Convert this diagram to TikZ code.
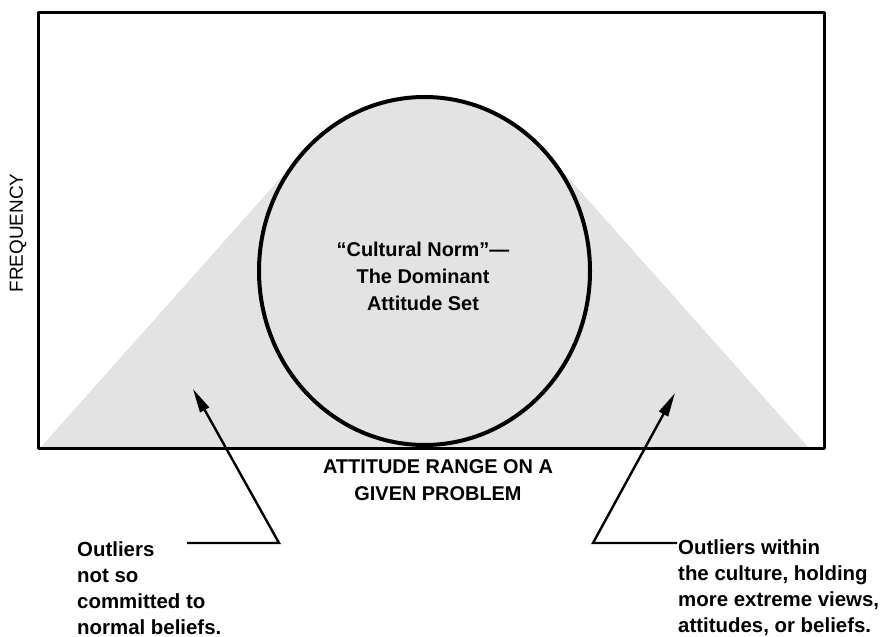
\documentclass[tikz,border=0pt]{standalone}
\usepackage{fontspec}
\setmainfont{Liberation Sans}
\usetikzlibrary{arrows.meta}
\definecolor{shd}{HTML}{E3E3E3}
\begin{document}
\begin{tikzpicture}[x=1bp,y=-1bp,
  lab/.style={font=\fontsize{20.5}{26}\selectfont\bfseries, align=left, inner sep=0pt},
  axislab/.style={font=\fontsize{20}{27}\selectfont\bfseries, align=center, inner sep=0pt},
  arr/.style={line width=2.4bp, -{Triangle[length=24bp,width=10bp]}},
  frame/.style={line width=3bp, line join=round}]
\useasboundingbox (0,0) rectangle (883,637);
\fill[white] (0,0) rectangle (883,637);

% shaded distribution: the ellipse and its tangents down to the base line
\begin{scope}
  \clip (38,14) rectangle (824,447);
  \fill[shd] (41,447) -- (303.7,152) -- (545.3,152) -- (808,447) -- cycle;
  \fill[shd] (424.5,271) ellipse [x radius=165.5, y radius=174];
\end{scope}

% axes frame
\draw[frame] (38,13) rectangle (824,448);

% the dominant attitude set
\draw[line width=4bp] (424.5,271) ellipse [x radius=165.5, y radius=174];
\node[axislab, anchor=base] (norm) at (423,310)
  {``Cultural Norm''---\\The Dominant\\Attitude Set};

% axis labels
\node[font=\fontsize{19}{22}\selectfont, rotate=90, inner sep=0pt] (freq) at (18,233) {FREQUENCY};
\node[axislab, anchor=base] (range) at (438,500) {ATTITUDE RANGE ON A\\GIVEN PROBLEM};

% outlier labels
\node[lab, anchor=base west] (left) at (77,634) {Outliers\\not so\\committed to\\normal beliefs.};
\node[lab, anchor=base west] (right) at (678,632) {Outliers within\\the culture, holding\\more extreme views,\\attitudes, or beliefs.};

% leader arrows
\coordinate (lstart) at (187,543);
\coordinate (lcorner) at (279,543);
\coordinate (ltip) at (193,389);
\coordinate (rstart) at (677,543);
\coordinate (rcorner) at (593,543);
\coordinate (rtip) at (675,393);
\draw[arr] (lstart) -- (lcorner) -- (ltip);
\draw[arr] (rstart) -- (rcorner) -- (rtip);
\end{tikzpicture}
\end{document}
